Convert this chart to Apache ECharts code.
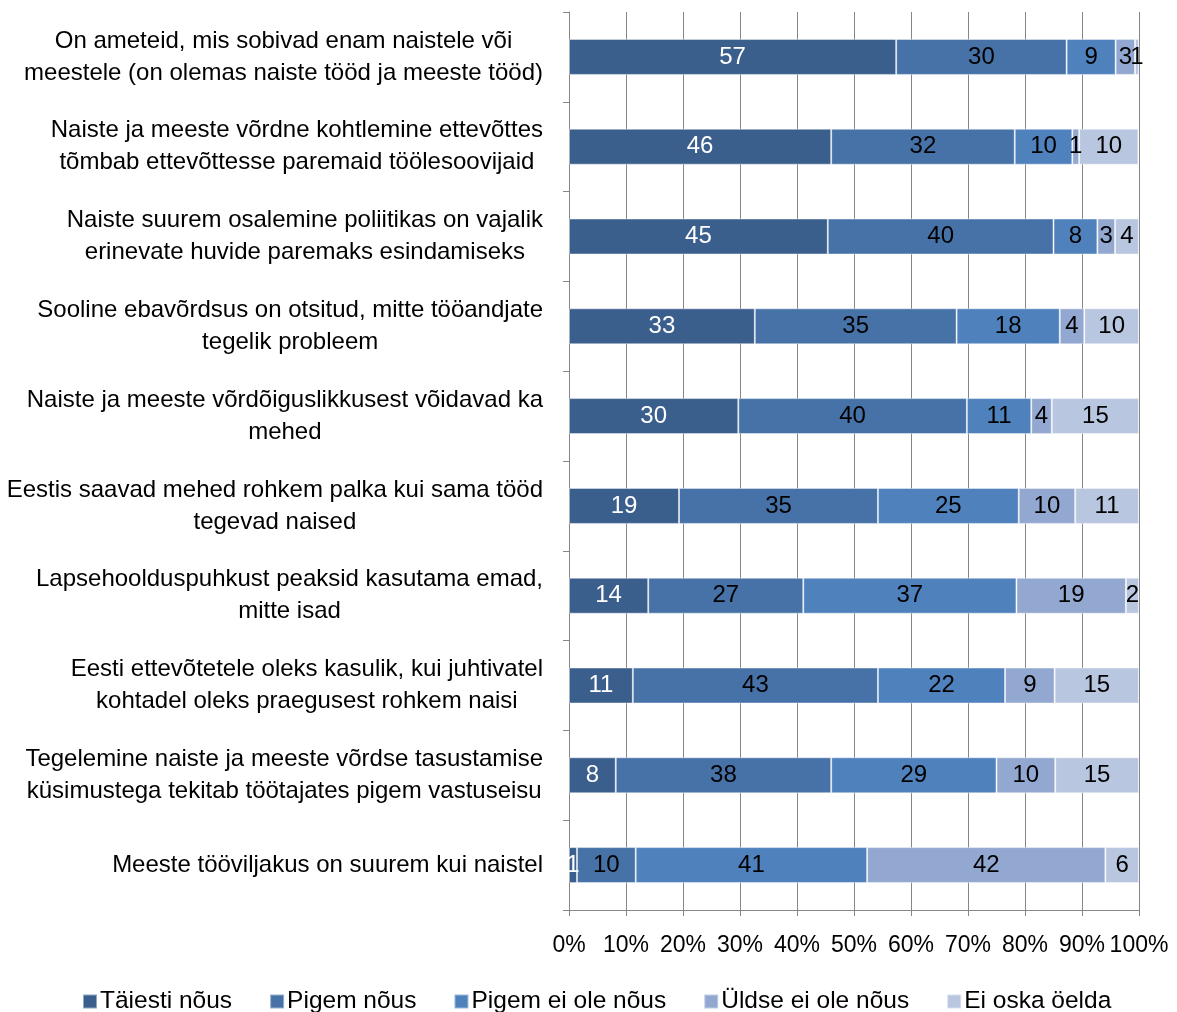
<!DOCTYPE html>
<html>
<head>
<meta charset="utf-8">
<script src="https://cdn.jsdelivr.net/npm/echarts@6/dist/echarts.min.js"></script>
<style>
html,body{margin:0;padding:0;background:#fff;}
#chart{width:1177px;height:1012px;}
</style>
</head>
<body>
<div id="chart"></div>
<script>
const categories = [
  "On ameteid, mis sobivad enam naistele või\nmeestele (on olemas naiste tööd ja meeste tööd)",
  "Naiste ja meeste võrdne kohtlemine ettevõttes\ntõmbab ettevõttesse paremaid töölesoovijaid",
  "Naiste suurem osalemine poliitikas on vajalik\nerinevate huvide paremaks esindamiseks",
  "Sooline ebavõrdsus on otsitud, mitte tööandjate\ntegelik probleem",
  "Naiste ja meeste võrdõiguslikkusest võidavad ka\nmehed",
  "Eestis saavad mehed rohkem palka kui sama tööd\ntegevad naised",
  "Lapsehoolduspuhkust peaksid kasutama emad,\nmitte isad",
  "Eesti ettevõtetele oleks kasulik, kui juhtivatel\nkohtadel oleks praegusest rohkem naisi",
  "Tegelemine naiste ja meeste võrdse tasustamise\nküsimustega tekitab töötajates pigem vastuseisu",
  "Meeste tööviljakus on suurem kui naistel"
];
const seriesNames = ["Täiesti nõus", "Pigem nõus", "Pigem ei ole nõus", "Üldse ei ole nõus", "Ei oska öelda"];
const taiestiNous    = [57.4, 46.0, 45.4, 32.6, 29.7, 19.3, 13.9, 11.2, 8.2, 1.4];
const pigemNous      = [29.9, 32.2, 39.6, 35.4, 40.1, 34.9, 27.2, 43.0, 37.8, 10.3];
const pigemEiOleNous = [8.6, 10.1, 7.7, 18.1, 11.3, 24.7, 37.4, 22.3, 29.0, 40.6];
const uldseEiOleNous = [3.4, 1.2, 3.1, 4.3, 3.6, 9.9, 19.2, 8.7, 10.3, 41.8];
const eiOskaOelda    = [0.7, 10.4, 4.2, 9.6, 15.3, 11.2, 2.3, 14.8, 14.7, 5.9];
const xTicks = [0, 10, 20, 30, 40, 50, 60, 70, 80, 90, 100];

const colors = ["#3B5F8D", "#4672A7", "#4F81BD", "#93A8D0", "#B9C6E0"];
const labelColors = ["#ffffff", "#000000", "#000000", "#000000", "#000000"];
const allData = [taiestiNous, pigemNous, pigemEiOleNous, uldseEiOleNous, eiOskaOelda];
const FONT = "Liberation Sans";

const chart = echarts.init(document.getElementById('chart'), null, {renderer: 'canvas'});
const option = {
  animation: false,
  backgroundColor: '#ffffff',
  textStyle: {fontFamily: FONT},
  grid: {left: 569, right: 38, top: 12, bottom: 102, containLabel: false, outerBoundsMode: 'none'},
  legend: {
    left: 77, top: 984,
    itemWidth: 14, itemHeight: 14, itemGap: 37,
    icon: 'rect',
    textStyle: {fontFamily: FONT, fontSize: 24.5, color: '#000', padding: [0, 0, 0, -2]},
    data: seriesNames
  },
  xAxis: {
    type: 'value', min: xTicks[0], max: xTicks[xTicks.length - 1], interval: 10,
    axisLine: {show: true, lineStyle: {color: '#868686', width: 1}},
    axisTick: {show: true, length: 6, lineStyle: {color: '#868686'}},
    splitLine: {show: true, lineStyle: {color: '#868686', width: 1}},
    axisLabel: {formatter: '{value}%', fontFamily: FONT, fontSize: 23, color: '#000', margin: 24}
  },
  yAxis: {
    type: 'category', inverse: true, data: categories,
    axisLine: {show: true, lineStyle: {color: '#868686', width: 1}},
    axisTick: {show: true, length: 6, lineStyle: {color: '#868686'}},
    splitLine: {show: false},
    axisLabel: {
      margin: 26, fontFamily: FONT, fontSize: 24, color: '#000', lineHeight: 32, align: 'right',
      formatter: function (v) {
        return v.split('\n').map(function (l) { return '{c|' + l + '}'; }).join('\n');
      },
      rich: {c: {align: 'center', fontFamily: FONT, fontSize: 24, lineHeight: 32, color: '#000'}}
    }
  },
  series: seriesNames.map(function (name, i) {
    return {
      name: name, type: 'bar', stack: 'total', barWidth: 36,
      data: allData[i],
      itemStyle: {color: colors[i], borderColor: 'rgba(255,255,255,0.45)', borderWidth: 1},
      label: {
        show: true, position: 'inside', color: labelColors[i],
        fontFamily: FONT, fontSize: 24,
        formatter: function (p) { return Math.round(p.value); }
      }
    };
  })
};
chart.setOption(option);
</script>
</body>
</html>
